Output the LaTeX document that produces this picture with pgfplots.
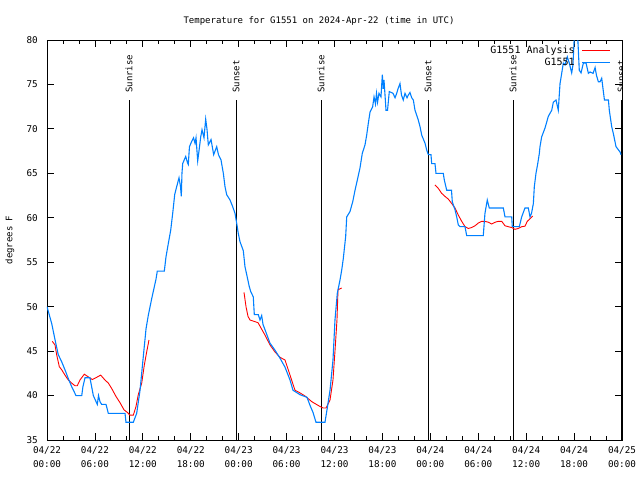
\documentclass[border=0pt]{standalone}
\usepackage{fontspec}
\setmainfont{DejaVu Sans Mono}
\usepackage{pgfplots}
\pgfplotsset{compat=1.18}
\definecolor{obsblue}{RGB}{0,128,255}
\newcommand{\gfont}{\fontsize{9bp}{14bp}\selectfont}
\newcommand{\tfont}{\fontsize{9.3bp}{14bp}\selectfont}
\newcommand{\lfont}{\fontsize{10bp}{12bp}\selectfont}
\begin{document}
\begin{tikzpicture}
\path[use as bounding box] (-47bp,-40bp) rectangle (593bp,440bp);
\begin{axis}[
  scale only axis, width=575bp, height=400bp,
  at={(0,0)}, anchor=south west,
  xmin=0, xmax=72, ymin=35, ymax=80,
  xtick={0,6,...,72},
  xticklabels={{04/22\\00:00},{04/22\\06:00},{04/22\\12:00},{04/22\\18:00},
               {04/23\\00:00},{04/23\\06:00},{04/23\\12:00},{04/23\\18:00},
               {04/24\\00:00},{04/24\\06:00},{04/24\\12:00},{04/24\\18:00},
               {04/25\\00:00}},
  minor x tick num=2,
  ytick={35,40,...,80},
  tick align=inside, tick pos=both,
  major tick length=7bp, minor tick length=4bp,
  every tick/.style={black, line width=0.8bp},
  axis line style={line width=0.8bp},
  /pgf/number format/assume math mode=true,
  tick label style={font=\tfont},
  xticklabel style={align=center, inner sep=0pt, yshift=-6bp},
  yticklabel style={inner sep=0pt, xshift=-9bp},
  legend style={at={(1,1)}, anchor=north east, xshift=-11bp, yshift=-4bp,
    draw=none, fill=none, font=\lfont, row sep=-1bp, column sep=5bp, inner sep=0pt},
  legend cell align=right, legend plot pos=right,
  legend image code/.code={\draw[#1] (0bp,0bp) -- (28bp,0bp);},
]
% sunrise / sunset markers
\addplot[black, line width=0.8bp, forget plot] coordinates {(10.27,35) (10.27,73.25)};
\addplot[black, line width=0.8bp, forget plot] coordinates {(23.67,35) (23.67,73.25)};
\addplot[black, line width=0.8bp, forget plot] coordinates {(34.31,35) (34.31,73.25)};
\addplot[black, line width=0.8bp, forget plot] coordinates {(47.71,35) (47.71,73.25)};
\addplot[black, line width=0.8bp, forget plot] coordinates {(58.35,35) (58.35,73.25)};
\addplot[black, line width=0.8bp, forget plot] coordinates {(71.88,35) (71.88,73.25)};

% analysis (red)
\addplot[red, line width=0.9bp] coordinates {
(0.66,46.1)(1.00,45.7)(1.21,44.6)(1.54,43.25)(1.84,42.9)(2.25,42.3)(2.67,41.75)
(3.09,41.4)(3.51,41.1)(3.79,41.1)(4.13,41.75)(4.67,42.4)(5.17,42.1)(5.67,41.8)
(6.22,42.05)(6.72,42.3)(7.26,41.75)(7.68,41.4)(8.10,40.8)(8.64,39.9)(9.14,39.2)
(9.64,38.4)(10.06,38.1)(10.39,37.8)(10.81,37.8)(11.14,38.75)(11.43,40.1)
(11.86,41.4)(12.18,43.4)(12.48,44.9)(12.77,46.25)
};
\addlegendentry{G1551 Analysis}
\addplot[red, line width=0.9bp, forget plot] coordinates {
(24.67,51.6)(24.92,50)(25.17,48.9)(25.42,48.5)(26.42,48.2)(27.30,46.8)(27.92,45.7)
(28.55,44.9)(29.18,44.3)(29.80,44)(30.43,42.3)(31.05,40.6)(31.68,40.3)(32.31,39.95)
(33.18,39.3)(33.93,38.9)(34.56,38.6)(34.94,38.6)(35.44,39.5)(35.81,41.75)
(36.06,45)(36.31,48.5)(36.44,51.9)(36.90,52.1)
};
\addplot[red, line width=0.9bp, forget plot] coordinates {
(48.58,63.7)(49.00,63.3)(49.42,62.75)(49.84,62.4)(50.25,62.1)(50.68,61.6)(51.09,61.1)
(51.50,60.3)(51.93,59.6)(52.34,59)(52.75,58.8)(53.17,58.9)(53.59,59.1)(54.00,59.4)
(54.43,59.6)(54.84,59.6)(55.26,59.5)(55.68,59.3)(56.11,59.5)(56.52,59.6)(56.94,59.6)
(57.35,59.1)(57.76,59)(58.19,58.9)(58.60,58.7)(59.02,58.8)(59.44,59)(59.85,59.05)
(60.14,59.6)(60.48,59.9)(60.82,60.2)
};

% observed (blue)
\addplot[obsblue, line width=1.1bp] coordinates {
(0,50)(0.59,48.1)(1.0,46.3)(1.41,44.6)(1.84,43.8)(2.25,42.9)(2.67,41.9)(3.09,41.0)
(3.63,40)(4.35,40)(4.5,41)(4.76,42)(5.38,42)(5.80,40)(6.30,39)(6.45,40)(6.64,39.3)
(6.85,39)(7.39,39)(7.68,38)(9.77,38)(9.89,37)(10.81,37)(11.23,38)(11.65,40.6)
(12.06,44.4)(12.40,47.5)(12.68,49)(13.11,50.9)(13.65,53.1)(13.81,54)(14.69,54)
(14.90,55.6)(15.19,57.1)(15.49,58.6)(15.74,60.5)(15.99,62.6)(16.24,63.5)(16.53,64.5)
(16.72,63.5)(16.82,62.4)(16.90,65)(16.99,66.1)(17.37,66.9)(17.59,66.2)(17.69,66)
(17.84,68)(18.12,68.6)(18.35,69)(18.53,68.4)(18.66,69)(18.87,66.4)(19.03,67.5)
(19.25,69.1)(19.41,69.9)(19.66,69)(19.87,71.1)(20.03,70)(20.20,68.2)(20.54,68.8)
(20.87,67.1)(21.25,68)(21.47,67.1)(21.79,66.5)(22.08,65)(22.29,63.5)(22.50,62.6)
(22.92,62)(23.25,61.25)(23.54,60.5)(23.75,59.4)(23.95,58.25)(24.17,57.3)(24.58,56.3)
(24.79,54.5)(25.01,53.6)(25.33,52.25)(25.51,51.7)(25.83,51.1)(25.96,49.1)(26.46,49.1)
(26.67,48.5)(26.88,49)(27.05,48)(27.30,47.4)(27.92,45.9)(28.55,45.1)(29.18,44.2)
(29.80,43.2)(30.43,41.75)(30.80,40.6)(31.68,40.1)(32.56,39.8)(32.93,38.9)(33.31,38.1)
(33.68,37)(34.81,37)(35.06,38.4)(35.44,40.6)(35.81,44)(36.06,48.5)(36.35,51.5)
(36.69,53)(36.90,54.1)(37.10,55.4)(37.40,57.9)(37.53,60.1)(37.94,60.7)(38.28,61.8)
(38.57,63.1)(38.86,64.25)(39.19,65.6)(39.48,67.25)(39.82,68.2)(40.03,69.3)(40.23,70.6)
(40.45,71.9)(40.78,72.5)(40.95,73.6)(41.13,72.8)(41.26,74)(41.39,73)(41.57,74)
(41.82,73.6)(41.99,76.1)(42.11,74.5)(42.20,75.5)(42.45,72.1)(42.64,72.1)(42.86,74.2)
(43.33,74)(43.58,73.5)(43.79,74)(43.95,74.5)(44.20,75.1)(44.39,73.8)(44.61,73.25)
(44.83,74)(45.08,73.5)(45.24,73.8)(45.45,74.1)(45.67,73.5)(45.87,73.25)(46.08,72.1)
(46.49,71)(46.71,70.25)(46.92,69.3)(47.33,68.4)(47.55,67.6)(47.75,67.1)(48.08,67.1)
(48.17,66.1)(48.58,66.1)(48.71,65)(49.62,65)(49.75,64.25)(50.05,63.1)(50.65,63.1)
(50.75,61.8)(51.09,60.9)(51.30,60.1)(51.50,59.2)(51.71,59)(52.34,59)(52.55,58)
(54.63,58)(54.84,60.5)(55.13,62)(55.38,61.1)(57.14,61.1)(57.35,60.1)(58.19,60.1)
(58.26,59)(59.14,59)(59.44,60.1)(59.85,61.1)(60.27,61.1)(60.48,60.1)(60.67,60.5)
(60.90,61.6)(61.02,63.5)(61.23,65)(61.45,66.1)(61.65,67.25)(61.73,68)(61.94,69.1)
(62.36,70.1)(62.77,71.4)(63.20,72.1)(63.40,73)(63.74,73.25)(64.02,72.1)(64.24,75.1)
(64.45,76.25)(64.65,77.4)(64.86,77.2)(65.15,78.1)(65.40,77.4)(65.70,76.3)(65.86,77.2)
(66.11,82)(66.37,82)(66.65,76.6)(66.87,76.3)(67.16,77.4)(67.50,77.4)(67.79,76.25)
(68.00,76.4)(68.38,76.25)(68.63,76.9)(68.81,76)(69.04,75.3)(69.25,75.3)(69.46,75.7)
(69.59,74.75)(69.80,73.25)(70.30,73.25)(70.41,72.1)(70.71,70.25)(70.91,69.5)
(71.25,68)(71.75,67.4)(71.88,67.1)
};
\addlegendentry{G1551}

\node[rotate=90, anchor=west, font=\gfont, inner sep=0pt] at (axis cs:10.27,74.05) {Sunrise};
\node[rotate=90, anchor=west, font=\gfont, inner sep=0pt] at (axis cs:23.67,74.05) {Sunset};
\node[rotate=90, anchor=west, font=\gfont, inner sep=0pt] at (axis cs:34.31,74.05) {Sunrise};
\node[rotate=90, anchor=west, font=\gfont, inner sep=0pt] at (axis cs:47.71,74.05) {Sunset};
\node[rotate=90, anchor=west, font=\gfont, inner sep=0pt] at (axis cs:58.35,74.05) {Sunrise};
\node[rotate=90, anchor=west, font=\gfont, inner sep=0pt] at (axis cs:71.88,74.05) {Sunset};
\end{axis}
\node[font=\gfont] at (272bp,419bp) {Temperature for G1551 on 2024-Apr-22 (time in UTC)};
\node[font=\gfont, rotate=90] at (-37bp,200bp) {degrees F};
\end{tikzpicture}
\end{document}
